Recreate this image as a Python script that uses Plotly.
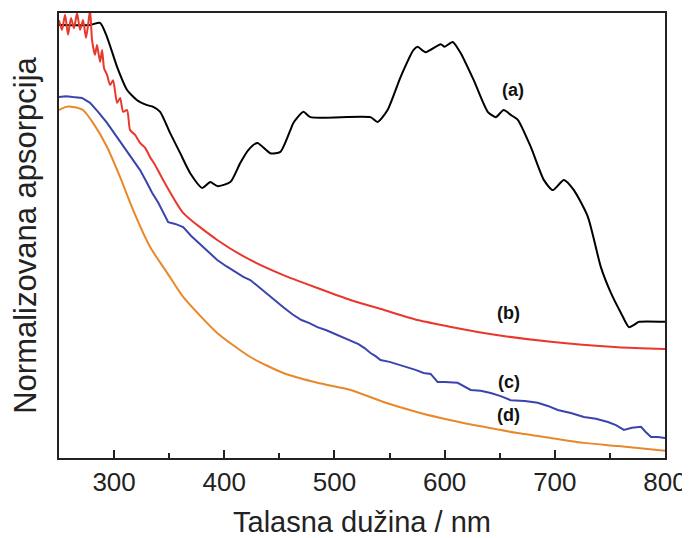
import plotly.graph_objects as go

# ---- data (wavelength in nm, normalized absorbance) ----
wl_a = [250, 278.2, 287.3, 293.6, 302.7, 311.8, 320.9, 330, 335.5, 341.8, 350.9, 360, 369.1, 380,
        387.3, 393.6, 405.5, 414.5, 421.8, 430, 441.8, 450.9, 460, 462.7, 471.8, 478.2, 532.7, 539.1,
        548.2, 560, 571.8, 575.5, 582.7, 596.4, 600, 607.3, 614.5, 626.4, 639.1, 646.4, 653.6, 660,
        666.4, 678.2, 690, 698.2, 708.2, 717.3, 730, 741.8, 750.9, 760, 767.3, 771.8, 776.4, 800]
abs_a = [0.973, 0.973, 0.978, 0.946, 0.879, 0.827, 0.804, 0.793, 0.789, 0.778, 0.730, 0.685, 0.640, 0.607,
         0.620, 0.611, 0.620, 0.663, 0.692, 0.708, 0.685, 0.688, 0.737, 0.753, 0.778, 0.766, 0.766, 0.755,
         0.782, 0.856, 0.917, 0.924, 0.912, 0.930, 0.924, 0.935, 0.910, 0.849, 0.778, 0.766, 0.782, 0.771,
         0.760, 0.699, 0.625, 0.602, 0.625, 0.602, 0.542, 0.429, 0.371, 0.326, 0.294, 0.299, 0.306, 0.306]

wl_b = [250, 252.7, 255.5, 258.2, 260.9, 263.6, 266.4, 269.1, 271.8, 274.5, 276.4, 278.2, 280, 282.7,
        284.5, 287.3, 289.1, 290.9, 293.6, 296.4, 299.1, 302.7, 305.5, 308.2, 311.8, 314.5, 319.1, 323.6,
        328.2, 332.7, 337.3, 344.5, 362.7, 393.6, 423.6, 453.6, 484.5, 514.5, 544.5, 575.5, 635.5, 696.4,
        757.3, 800]
abs_b = [0.984, 0.962, 0.996, 0.951, 0.989, 0.966, 1.0, 0.962, 0.984, 0.944, 0.973, 1.007, 0.939, 0.906,
         0.928, 0.890, 0.917, 0.876, 0.861, 0.838, 0.849, 0.798, 0.809, 0.778, 0.782, 0.737, 0.726, 0.708,
         0.697, 0.676, 0.658, 0.625, 0.551, 0.490, 0.445, 0.411, 0.382, 0.355, 0.333, 0.310, 0.281, 0.261,
         0.249, 0.245]

wl_c = [250, 256.4, 262.7, 270.9, 278.2, 285.5, 293.6, 300.9, 308.2, 316.4, 323.6, 329.1, 334.5, 340,
        344.5, 349.1, 355.5, 362.7, 370, 378.2, 386.4, 393.6, 401.8, 410, 417.3, 423.6, 431.8, 440,
        447.3, 453.6, 461.8, 470, 477.3, 484.5, 492.7, 500, 507.3, 514.5, 521.8, 527.3, 532.7, 537.3,
        541.8, 550, 560, 567.3, 573.6, 580.9, 587.3, 593.6, 600, 611.8, 617.3, 623.6, 632.7, 641.8,
        650.9, 660, 672.7, 684.5, 693.6, 702.7, 714.5, 726.4, 737.3, 748.2, 755.5, 762.7, 770,
        778.2, 782.7, 787.3, 793.6, 800]
abs_c = [0.811, 0.813, 0.811, 0.809, 0.798, 0.778, 0.753, 0.727, 0.699, 0.672, 0.647, 0.622, 0.596, 0.574,
         0.551, 0.530, 0.526, 0.519, 0.499, 0.481, 0.462, 0.445, 0.431, 0.418, 0.407, 0.400, 0.383, 0.368,
         0.352, 0.339, 0.323, 0.310, 0.303, 0.294, 0.287, 0.279, 0.272, 0.265, 0.256, 0.247, 0.236, 0.229,
         0.220, 0.216, 0.209, 0.204, 0.198, 0.191, 0.189, 0.171, 0.171, 0.169, 0.162, 0.153, 0.151, 0.146,
         0.139, 0.130, 0.128, 0.124, 0.117, 0.108, 0.101, 0.092, 0.088, 0.081, 0.074, 0.063, 0.068,
         0.070, 0.058, 0.047, 0.047, 0.045]

wl_d = [250, 256.4, 262.7, 271.8, 280.9, 293.6, 305.5, 317.3, 332.7, 348.2, 362.7, 393.6, 423.6, 453.6,
        484.5, 514.5, 544.5, 575.5, 605.5, 635.5, 666.4, 696.4, 726.4, 757.3, 800]
abs_d = [0.782, 0.789, 0.789, 0.782, 0.753, 0.699, 0.631, 0.557, 0.474, 0.416, 0.362, 0.281, 0.227, 0.191,
         0.169, 0.153, 0.126, 0.103, 0.085, 0.070, 0.056, 0.045, 0.034, 0.027, 0.016]

labels = ["(a)", "(b)", "(c)", "(d)"]
label_x = [661.8, 658, 658, 658]
label_y = [0.827, 0.326, 0.171, 0.097]

tick_vals = [300, 400, 500, 600, 700, 800]
minor_vals = [350, 450, 550, 650, 750]

colors = ["#000000", "#e8382c", "#3b44ad", "#e8882a"]

fig = go.Figure()
series = [(wl_a, abs_a, colors[0], "spline"), (wl_b, abs_b, colors[1], "spline"),
          (wl_c, abs_c, colors[2], "linear"), (wl_d, abs_d, colors[3], "spline")]
for xs, ys, c, shp in series:
    fig.add_trace(go.Scatter(x=xs, y=ys, mode="lines",
                             line=dict(color=c, width=2, shape=shp, smoothing=0.6),
                             showlegend=False, hoverinfo="skip", cliponaxis=True))

for t, x, y in zip(labels, label_x, label_y):
    fig.add_annotation(x=x, y=y, text="<b>%s</b>" % t, showarrow=False,
                       font=dict(family="Liberation Sans, Arial", size=18, color="#111"))

font = "Liberation Sans, Arial, sans-serif"
# page body has an 8px default margin, so the figure is sized/offset to compensate
fig.update_layout(
    width=682, height=530,
    margin=dict(l=51, r=25, t=5, b=80),
    paper_bgcolor="white", plot_bgcolor="white",
    font=dict(family=font, color="#222"),
    xaxis=dict(range=[250, 800], tickvals=tick_vals, ticks="inside", ticklen=8, tickwidth=1.5,
               tickcolor="#222", showgrid=False, zeroline=False, showline=True, linecolor="#222",
               linewidth=2, mirror=True, tickfont=dict(size=26), automargin=False,
               minor=dict(tickvals=minor_vals, ticks="inside", ticklen=5,
                          tickwidth=1.5, tickcolor="#222"),
               title=dict(text="Talasna dužina / nm", font=dict(size=29), standoff=19)),
    yaxis=dict(range=[0, 1], showticklabels=False, ticks="", showgrid=False, zeroline=False,
               showline=True, linecolor="#222", linewidth=2, mirror=True, automargin=False,
               title=dict(text="Normalizovana apsorpcija", font=dict(size=31), standoff=17)),
)

fig.write_html("out.html")
